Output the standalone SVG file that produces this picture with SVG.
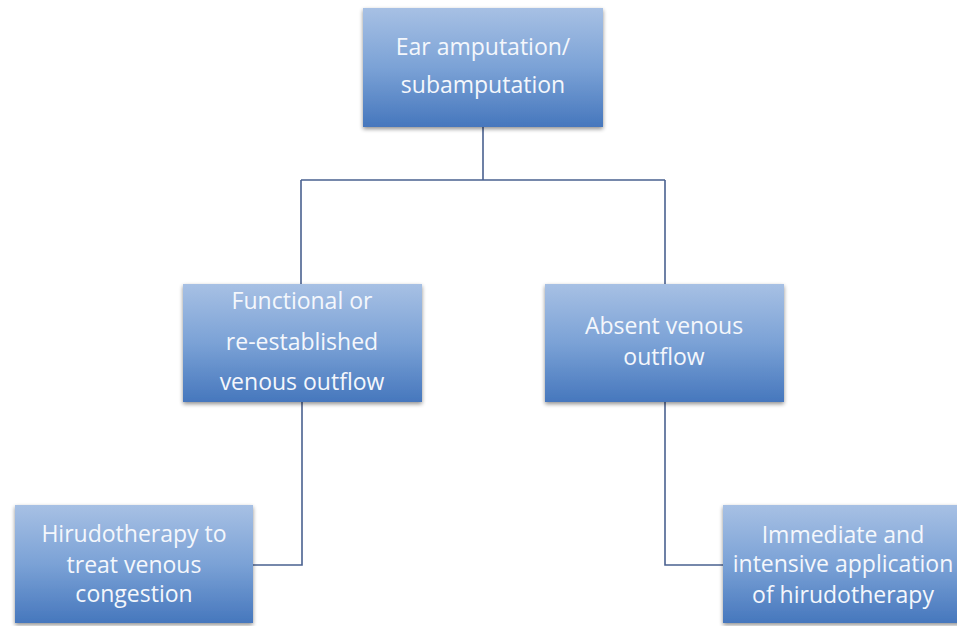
<svg xmlns="http://www.w3.org/2000/svg" width="957" height="626" viewBox="0 0 957 626">
<defs>
<linearGradient id="g" x1="0" y1="0" x2="0" y2="1">
<stop offset="0" stop-color="#a7c0e4"/>
<stop offset="0.5" stop-color="#7ba2d6"/>
<stop offset="1" stop-color="#4677bd"/>
</linearGradient>
<filter id="sh" x="-10%" y="-10%" width="120%" height="130%">
<feGaussianBlur in="SourceAlpha" stdDeviation="2"/>
<feOffset dx="0" dy="2" result="b"/>
<feComponentTransfer><feFuncA type="linear" slope="0.45"/></feComponentTransfer>
<feMerge><feMergeNode/><feMergeNode in="SourceGraphic"/></feMerge>
</filter>
</defs>
<style>
.box{fill:url(#g);filter:url(#sh);}
.t{font-family:"Open Sans","Liberation Sans",sans-serif;font-size:23px;fill:#f4f7fc;text-anchor:middle;}
.c{fill:none;stroke:#4a6190;stroke-width:1.6;}
</style>
<rect width="957" height="626" fill="#ffffff"/>
<g id="connectors">
<path class="c" d="M483,127 V180 M301,180 H665 M301,180 V284 M665,180 V284"/>
<path class="c" d="M302,402 V565 H253"/>
<path class="c" d="M665,402 V565 H723"/>
</g>
<g id="n1">
<rect class="box" x="363" y="8" width="240" height="119"/>
<text class="t" x="483" y="55">Ear amputation/</text>
<text class="t" x="483" y="93">subamputation</text>
</g>
<g id="n2">
<rect class="box" x="183" y="284" width="239" height="118"/>
<text class="t" x="302" y="309">Functional or</text>
<text class="t" x="302" y="350">re-established</text>
<text class="t" x="302" y="390">venous outflow</text>
</g>
<g id="n3">
<rect class="box" x="545" y="284" width="239" height="118"/>
<text class="t" x="664" y="334">Absent venous</text>
<text class="t" x="664" y="365">outflow</text>
</g>
<g id="n4">
<rect class="box" x="15" y="505" width="238" height="118"/>
<text class="t" x="134" y="542">Hirudotherapy to</text>
<text class="t" x="134" y="573">treat venous</text>
<text class="t" x="134" y="602">congestion</text>
</g>
<g id="n5">
<rect class="box" x="723" y="505" width="240" height="118"/>
<text class="t" x="843" y="543">Immediate and</text>
<text class="t" x="843" y="572">intensive application</text>
<text class="t" x="843" y="603">of hirudotherapy</text>
</g>
</svg>
